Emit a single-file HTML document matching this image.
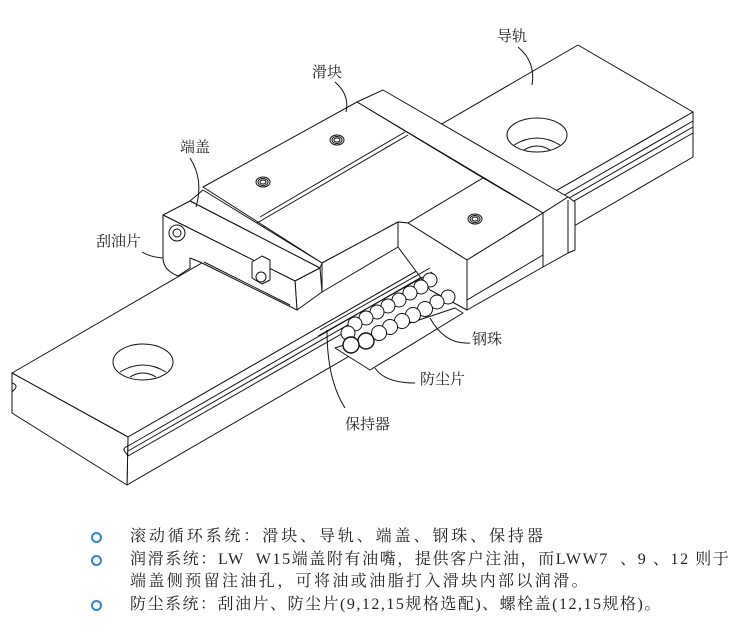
<!DOCTYPE html>
<html><head><meta charset="utf-8"><style>
html,body{margin:0;padding:0;background:#fff;width:749px;height:634px;overflow:hidden}
svg{position:absolute;left:0;top:0}
.t{position:absolute;left:130px;font-family:"Liberation Serif","Noto Serif CJK SC",serif;font-size:16px;color:#222;white-space:nowrap;letter-spacing:2.9px;line-height:22px}
.b{position:absolute;left:91px;width:7px;height:7px;border:2.5px solid #2f86c8;border-radius:50%}
</style></head><body>
<svg width="749" height="634" viewBox="0 0 749 634" fill="#fff" stroke="#111" stroke-width="1" stroke-linejoin="round">
<!-- rail -->
<polygon points="12,373 578,45 693,112 128,437"/>
<polygon points="128,437 693,112 693,157 127,485"/>
<polygon points="12,373 128,437 127,485 12,413"/>
<g fill="none">
<line x1="128" y1="446" x2="693" y2="121"/>
<line x1="128" y1="451" x2="693" y2="127"/>
<line x1="128" y1="456" x2="693" y2="133"/>
<path d="M12,383 q6,2 3,6 q-3,3 -3,3"/>
<path d="M128,446 q-6,2 -3,6 q3,3 3,4"/>
<ellipse cx="143" cy="362" rx="30" ry="18"/>
<path d="M120,372 q23,-14 46,0"/><path d="M130,377 q13,-8 26,0"/>
<ellipse cx="537" cy="135" rx="30" ry="17"/>
<path d="M514,145 q23,-14 46,0"/><path d="M524,150 q13,-8 26,0"/>
</g>
<!-- far end cap -->
<polygon points="357,102 383,90 568,197 543,213"/>
<polygon points="543,213 568,197 575,202 575,250 568,253 543,267"/>
<line x1="568" y1="200" x2="568" y2="253"/>
<!-- main top -->
<polygon points="203,187 357,102 483,178 408,223 398,222 322,263"/>
<line x1="257" y1="223" x2="408" y2="135"/>
<line x1="260" y1="217" x2="405" y2="132"/>
<!-- right block -->
<polygon points="408,223 483,178 543,213 467,260"/>
<polygon points="467,260 543,213 543,267 467,310"/>
<line x1="467" y1="300" x2="543" y2="255"/>
<polygon points="398,222 408,223 467,260 467,310 430,290 398,247"/>
<!-- mid step -->
<polygon points="322,263 398,222 398,247 322,292"/>
<line x1="320" y1="330" x2="430" y2="268"/>
<line x1="318" y1="336" x2="432" y2="272"/>
<!-- near end plates -->
<polygon points="190,201 203,190 322,263 320,268"/>
<polygon points="163,215 190,201 320,268 295,281"/>
<polygon points="295,281 320,268 322,292 297,310"/>
<path d="M163,215 L295,281 L297,310 L200,262 L190,258 L190,268 L178,276 Q163,270 163,258 Z"/>
<line x1="204" y1="262" x2="290" y2="305"/>
<circle cx="177" cy="233" r="8"/><circle cx="177" cy="233" r="4"/>
<path d="M252,262 l10,-6 l8,4 l0,20 l-8,4 l-10,-6 z"/>
<circle cx="261" cy="277" r="5"/>
<!-- threaded holes -->
<g fill="none"><ellipse cx="263" cy="182" rx="7" ry="5"/><ellipse cx="263" cy="182" rx="5" ry="3.5"/><ellipse cx="263" cy="182" rx="3" ry="2"/>
<ellipse cx="337" cy="140" rx="7" ry="5"/><ellipse cx="337" cy="140" rx="5" ry="3.5"/><ellipse cx="337" cy="140" rx="3" ry="2"/>
<ellipse cx="475" cy="219" rx="7" ry="5"/><ellipse cx="475" cy="219" rx="5" ry="3.5"/><ellipse cx="475" cy="219" rx="3" ry="2"/></g>
<!-- dust plate -->
<polygon points="335,348 370,370 463,313 455,308"/>
<!-- balls -->
<g>
<circle cx="448" cy="297" r="7"/><circle cx="437" cy="302" r="7"/>
<circle cx="430" cy="280" r="7"/><circle cx="421" cy="287" r="7"/><circle cx="410" cy="293" r="7"/><circle cx="399" cy="300" r="7"/><circle cx="388" cy="306" r="7"/><circle cx="377" cy="312" r="7"/><circle cx="366" cy="318" r="7"/><circle cx="355" cy="324" r="7"/><circle cx="348" cy="333" r="7"/>
<circle cx="425" cy="309" r="7.5"/><circle cx="413" cy="315" r="7.5"/><circle cx="402" cy="321" r="7.5"/><circle cx="390" cy="327" r="7.5"/><circle cx="379" cy="333" r="7.5"/><circle cx="366" cy="341" r="8" stroke-width="1.4"/><circle cx="351" cy="345" r="8" stroke-width="1.4"/>
</g>
<!-- leaders -->
<g fill="none">
<path d="M518,47 Q536,62 532,85"/>
<path d="M335,82 Q350,95 346,112"/>
<path d="M190,158 Q204,180 196,207"/>
<path d="M142,252 Q150,257 163,258"/>
<path d="M470,343 Q445,345 430,318"/>
<path d="M415,383 Q385,383 375,368"/>
<path d="M345,408 Q327,380 327,330"/>
</g>
<g fill="#222" stroke="none" font-family="Liberation Serif,'Noto Serif CJK SC',serif" font-size="15">
<text x="497" y="41">导轨</text>
<text x="312" y="77">滑块</text>
<text x="180" y="152">端盖</text>
<text x="96" y="246">刮油片</text>
<text x="472" y="344">钢珠</text>
<text x="420" y="384">防尘片</text>
<text x="345" y="429">保持器</text>
</g>
</svg>
<div class="b" style="top:532px"></div><div class="t" style="top:526px">滚动循环系统：滑块、导轨、端盖、钢珠、保持器</div>
<div class="b" style="top:555px"></div><div class="t" style="top:549px;letter-spacing:1.6px">润滑系统：LW&nbsp; W15端盖附有油嘴，提供客户注油，而LWW7&nbsp; 、9 、12 则于</div>
<div class="t" style="top:571px;letter-spacing:2.4px">端盖侧预留注油孔，可将油或油脂打入滑块内部以润滑。</div>
<div class="b" style="top:600px"></div><div class="t" style="top:594px;letter-spacing:1.5px">防尘系统：刮油片、防尘片(9,12,15规格选配)、螺栓盖(12,15规格)。</div>
</body></html>
